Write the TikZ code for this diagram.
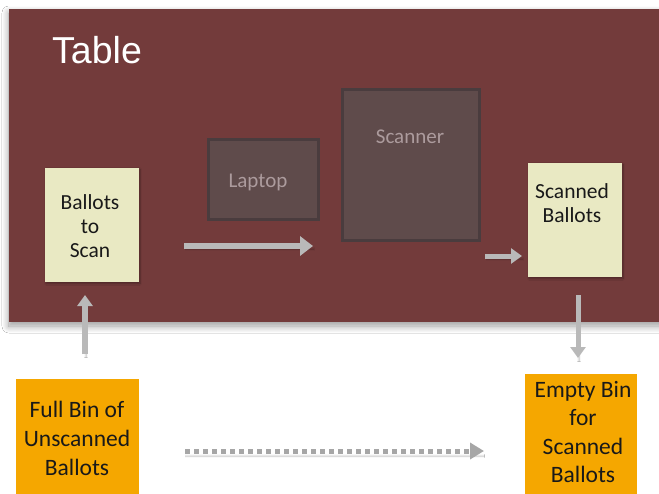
\documentclass[tikz,border=0pt]{standalone}
\usepackage{fontspec}
\setmainfont{Carlito}
\newfontfamily\headfont{Liberation Sans}
\usetikzlibrary{arrows.meta,shadows.blur}
\definecolor{tablered}{HTML}{733B3B}
\definecolor{devfill}{HTML}{5F4B4B}
\definecolor{devline}{HTML}{4A3C3E}
\definecolor{devtext}{HTML}{AC9B9D}
\definecolor{paper}{HTML}{E9E9C3}
\definecolor{binorange}{HTML}{F5A700}
\definecolor{flow}{HTML}{B9B9B9}
\tikzset{
  device/.style={draw=devline, line width=3pt, fill=devfill, inner sep=0pt},
  stack/.style={fill=paper, inner sep=0pt, blur shadow={shadow xshift=1pt, shadow yshift=-1.5pt, shadow blur steps=4, shadow opacity=35}},
  bin/.style={fill=binorange, inner sep=0pt},
  txt/.style={font=\fontsize{21.5}{24}\selectfont, text=black!90, align=center, inner sep=0pt},
  devlabel/.style={font=\fontsize{21}{24}\selectfont, text=devtext, inner sep=0pt},
  flowarrow/.style={draw=flow, line width=6pt, -{Triangle[length=13pt, width=19pt]},
    blur shadow={shadow xshift=1pt, shadow yshift=-3pt, shadow blur steps=5, shadow opacity=30}},
  smallarrow/.style={draw=flow, line width=5pt, -{Triangle[length=11pt, width=15pt]},
    blur shadow={shadow xshift=1pt, shadow yshift=-3pt, shadow blur steps=5, shadow opacity=30}},
}
\begin{document}
\begin{tikzpicture}[x=1pt, y=-1pt]
\useasboundingbox (0,0) rectangle (659,493);
\fill[white] (0,0) rectangle (659,493);

% the table top
\node[fill=tablered, minimum width=660pt, minimum height=313pt, inner sep=0pt,
  blur shadow={shadow xshift=0pt, shadow yshift=-4pt, shadow blur radius=7pt,
    shadow blur steps=12, shadow opacity=40}]
  (table) at (339,165.5) {};
\node[anchor=base west, font=\headfont\fontsize{37.5}{40}\selectfont, text=white, inner sep=0pt]
  (tablelabel) at (52,63) {Table};

% equipment on the table
\node[device, minimum width=110pt, minimum height=80pt] (laptop) at (263.5,179.5) {};
\node[devlabel] (laptoplabel) at (258,182) {Laptop};
\node[device, minimum width=137pt, minimum height=151pt] (scanner) at (411,165) {};
\node[devlabel] (scannerlabel) at (410,137) {Scanner};

% ballot stacks
\node[stack, minimum width=94pt, minimum height=114pt] (toscan) at (92,225) {};
\node[txt] (toscanlabel) at (90,226) {Ballots\\to\\Scan};
\node[stack, minimum width=94pt, minimum height=114pt] (scanned) at (575,220) {};
\node[txt] (scannedlabel) at (572,203) {Scanned\\Ballots};

% bins on the floor
\node[bin, minimum width=123pt, minimum height=116pt] (fullbin) at (77.5,437) {};
\node[txt, font=\fontsize{23.5}{29}\selectfont] (fullbinlabel) at (77,438) {Full Bin of\\Unscanned\\Ballots};
\node[bin, minimum width=112pt, minimum height=121pt] (emptybin) at (581,434.5) {};
\node[txt, font=\fontsize{23.5}{28.5}\selectfont] (emptybinlabel) at (583,432) {Empty Bin\\for\\Scanned\\Ballots};

% flow of ballots
\coordinate (a1s) at (184,246);
\coordinate (a1e) at (313,246);
\coordinate (a2s) at (485,256);
\coordinate (a2e) at (522,256);
\coordinate (ups) at (85,354);
\coordinate (upe) at (85,295);
\coordinate (dns) at (578,295);
\coordinate (dne) at (578,358);
\coordinate (bins) at (185,451);
\coordinate (bine) at (484,451);

\draw[flowarrow] (a1s) -- (a1e);
\draw[smallarrow] (a2s) -- (a2e);
\draw[smallarrow, line width=6pt] (ups) -- (upe);
\draw[smallarrow, line width=5pt] (dns) -- (dne);
\draw[draw=flow!90!black, line width=5pt, dash pattern=on 5pt off 4pt,
  -{Triangle[length=14pt, width=16pt]},
  blur shadow={shadow xshift=0pt, shadow yshift=-5pt, shadow blur steps=6, shadow opacity=25}]
  (bins) -- (bine);
\end{tikzpicture}
\end{document}
